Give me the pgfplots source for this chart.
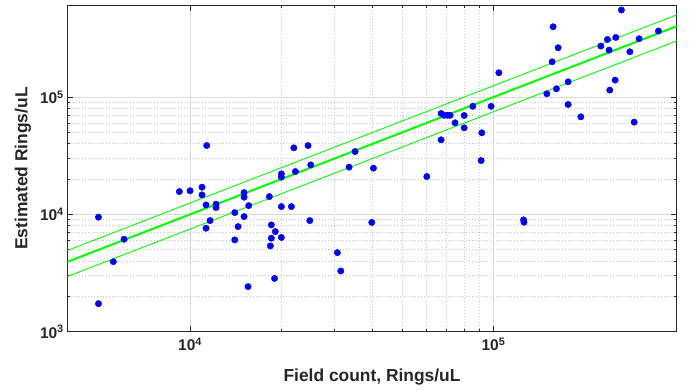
\documentclass[border=0pt]{standalone}
\usepackage{pgfplots}
\pgfplotsset{compat=1.18}
\usepackage{pgfplotstable}
\usepackage{fontspec}
\setmainfont{Liberation Sans}
\definecolor{axgray}{RGB}{38,38,38}
\definecolor{mblue}{RGB}{0,0,255}
\definecolor{mgreen}{RGB}{0,255,0}
\pgfplotstableread{
x y
4990 9470
4990 1733
5587 3956
6060 6143
9220 15650
10000 15900
10950 17060
10950 14670
11290 12050
12180 12220
12180 11430
11640 8853
11290 7625
11350 38640
15070 15340
15070 14020
15610 11885
14040 10360
15070 9576
14400 7868
14040 6060
18260 14185
20000 22150
20000 20770
22250 23180
20000 11655
21580 11655
18535 8135
19105 7133
18535 6265
20000 6364
18395 5386
18990 2844
15530 2421
21980 36930
24490 38640
34990 34340
24995 26440
33440 25270
40220 24780
24810 8853
39730 8545
30600 4721
31400 3295
60320 21010
67230 72440
68780 69940
70630 69940
71980 69940
80080 69660
74750 60350
80080 54700
67230 43200
85530 83440
98270 83440
91560 49590
91080 28770
104200 161200
125700 8974
126100 8579
150000 106700
157300 397700
163400 263400
156100 200000
176300 135000
161300 117700
176300 86470
194200 67880
226000 272300
237600 309900
240700 251700
253200 322300
251900 139600
241900 114700
264200 552400
281700 243400
291000 61170
302200 314200
349900 365600
}\pts
\begin{document}
\begin{tikzpicture}
\begin{loglogaxis}[
  scale only axis,
  width=609.4pt, height=326.4pt,
  xmin=3940, xmax=402000,
  ymin=1000, ymax=606000,
  axis line style={axgray, line width=0.8pt},
  tick style={axgray, line width=0.6pt},
  tick align=inside,
  major tick length=6pt,
  minor tick length=3pt,
  xtick={1e4,1e5},
  xticklabels={10\textsuperscript{4},10\textsuperscript{5}},
  ytick={1e3,1e4,1e5},
  yticklabels={10\textsuperscript{3},10\textsuperscript{4},10\textsuperscript{5}},
  ticklabel style={font=\fontsize{15.5}{18}\selectfont\bfseries, text=axgray},
  xticklabel style={yshift=-3pt},
  grid=both,
  major grid style={gray!30, line width=0.7pt},
  minor grid style={gray!45, line width=0.6pt, dash pattern=on 0.8pt off 2.2pt},
  xlabel={Field count, Rings/uL},
  ylabel={Estimated Rings/uL},
  label style={font=\fontsize{17.4}{20}\selectfont\bfseries, text=axgray},
  xlabel style={at={(axis description cs:0.5,-0.138)}, anchor=center},
  ylabel style={at={(axis description cs:-0.0727,0.5)}, anchor=center},
  clip=true,
]
\addplot[mgreen, line width=0.9pt] coordinates {(3940,4925) (402000,502500)};
\addplot[mgreen, line width=2pt] coordinates {(3940,3940) (402000,402000)};
\addplot[mgreen, line width=0.9pt] coordinates {(3940,2955) (402000,301500)};
\addplot[only marks, mark=*, mark size=3.2pt, mark options={draw=mblue, fill=mblue}] table {\pts};
\end{loglogaxis}
\pgfresetboundingbox
\path[use as bounding box] ([xshift=-67.3pt,yshift=-57.3pt]current axis.south west) rectangle ([xshift=14.3pt,yshift=5.3pt]current axis.north east);
\end{tikzpicture}
\end{document}
